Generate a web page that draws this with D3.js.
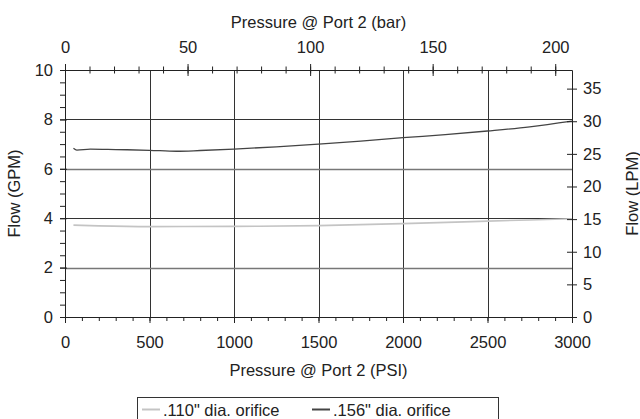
<!DOCTYPE html>
<html>
<head>
<meta charset="utf-8">
<script src="https://cdn.jsdelivr.net/npm/d3@7"></script>
<style>
  body { margin: 0; background: #fff; }
  text { font-family: "Liberation Sans", Arial, sans-serif; fill: #222; }
</style>
</head>
<body>
<svg id="chart" width="640" height="419"></svg>
<script>
// series (x in PSI, y in GPM)
const psiSmall = [50, 200, 500, 1000, 1500, 2000, 2500, 3000];
const gpmSmall = [3.72, 3.69, 3.66, 3.67, 3.70, 3.78, 3.88, 3.98];

const psiLarge = [50, 70, 150, 300, 500, 660, 800, 1000, 1250, 1500, 1750, 2000, 2250, 2500, 2750, 3000];
const gpmLarge = [6.83, 6.76, 6.80, 6.78, 6.75, 6.71, 6.74, 6.80, 6.89, 7.00, 7.12, 7.26, 7.38, 7.53, 7.70, 7.93];

const seriesNames = ['.110" dia. orifice', '.156" dia. orifice'];

const psiTicks = [0, 500, 1000, 1500, 2000, 2500, 3000];
const barTicks = [0, 50, 100, 150, 200];
const gpmTicks = [0, 2, 4, 6, 8, 10];
const lpmTicks = [0, 5, 10, 15, 20, 25, 30, 35];

const PSI_PER_BAR = 14.5038;
const LPM_PER_GPM = 3.78541;
const FS = 16.5;

const svg = d3.select("#chart");
const mLeft = 65, mRight = 572, mTop = 70, mBottom = 317;

const x = d3.scaleLinear().domain([0, 3000]).range([mLeft, mRight]);
const y = d3.scaleLinear().domain([0, 10]).range([mBottom, mTop]);
const xBar = d3.scaleLinear().domain([0, 3000 / PSI_PER_BAR]).range([mLeft, mRight]);
const yLpm = d3.scaleLinear().domain([0, 10 * LPM_PER_GPM]).range([mBottom, mTop]);

// grid
const grid = svg.append("g").attr("stroke", "#333").attr("stroke-width", 1);
grid.selectAll("line.v")
  .data(psiTicks.slice(1, -1))
  .enter().append("line")
    .attr("x1", d => Math.round(x(d)) + 0.5).attr("x2", d => Math.round(x(d)) + 0.5)
    .attr("y1", mTop).attr("y2", mBottom);
grid.selectAll("line.h")
  .data(gpmTicks.slice(1, -1))
  .enter().append("line")
    .attr("x1", mLeft).attr("x2", mRight)
    .attr("y1", d => Math.round(y(d)) + 0.5).attr("y2", d => Math.round(y(d)) + 0.5)
    .attr("stroke", d => d % 4 === 0 ? "#333" : "#777")
    .attr("stroke-width", d => d % 4 === 0 ? 1 : 1.5);

// curves
const line = d3.line().x(d => x(d[0])).y(d => y(d[1])).curve(d3.curveMonotoneX);
svg.append("path")
  .datum(d3.zip(psiSmall, gpmSmall))
  .attr("fill", "none").attr("stroke", "#c4c4c4").attr("stroke-width", 1.6)
  .attr("d", line);
svg.append("path")
  .datum(d3.zip(psiLarge, gpmLarge))
  .attr("fill", "none").attr("stroke", "#444").attr("stroke-width", 1.3)
  .attr("d", line);

function styleAxis(g) {
  g.select(".domain").attr("stroke", "#222");
  g.selectAll(".tick line").attr("stroke", "#222");
  g.selectAll(".tick text").attr("font-size", FS).attr("fill", "#222")
    .attr("font-family", "Liberation Sans, Arial, sans-serif");
}

// bottom axis: PSI
svg.append("g").attr("transform", `translate(0,${mBottom})`)
  .call(d3.axisBottom(x).tickValues(d3.range(0, 3001, 100)).tickSize(4).tickFormat(""))
  .call(styleAxis);
svg.append("g").attr("transform", `translate(0,${mBottom})`)
  .call(d3.axisBottom(x).tickValues(psiTicks).tickSize(6).tickPadding(13).tickFormat(d3.format("d")))
  .call(styleAxis)
  .call(g => g.select(".domain").remove());

// top axis: bar, ticks crossing the line
const topAxis = svg.append("g").attr("transform", `translate(0,${mTop})`);
topAxis.call(d3.axisTop(xBar).tickValues(d3.range(0, 207, 10)).tickSize(4).tickSizeOuter(0).tickFormat(""))
  .call(styleAxis)
  .call(g => g.selectAll(".tick line").attr("y2", -3.5).attr("y1", 3.5));
topAxis.append("g")
  .call(d3.axisTop(xBar).tickValues(barTicks).tickSize(6).tickPadding(11).tickFormat(d3.format("d")))
  .call(styleAxis)
  .call(g => g.select(".domain").remove())
  .call(g => g.selectAll(".tick line").attr("y2", -6).attr("y1", 6));

// left axis: GPM
svg.append("g").attr("transform", `translate(${mLeft},0)`)
  .call(d3.axisLeft(y).tickValues(d3.range(0, 10.01, 0.5)).tickSize(5).tickFormat(""))
  .call(styleAxis);
svg.append("g").attr("transform", `translate(${mLeft},0)`)
  .call(d3.axisLeft(y).tickValues(gpmTicks).tickSize(5).tickPadding(7).tickFormat(d3.format("d")))
  .call(styleAxis)
  .call(g => g.select(".domain").remove())
  .call(g => g.selectAll(".tick line").attr("x1", 2));

// right axis: LPM, ticks crossing
svg.append("g").attr("transform", `translate(${mRight},0)`)
  .call(d3.axisRight(yLpm).tickValues(lpmTicks).tickSize(5).tickSizeOuter(0).tickPadding(6).tickFormat(d3.format("d")))
  .call(styleAxis)
  .call(g => g.selectAll(".tick line").attr("x1", -5));

// axis titles
svg.append("text").attr("x", (mLeft + mRight) / 2).attr("y", 28)
  .attr("text-anchor", "middle").attr("font-size", FS).text("Pressure @ Port 2 (bar)");
svg.append("text").attr("x", (mLeft + mRight) / 2).attr("y", 376)
  .attr("text-anchor", "middle").attr("font-size", FS).text("Pressure @ Port 2 (PSI)");
svg.append("text").attr("transform", `translate(20,${(mTop + mBottom) / 2}) rotate(-90)`)
  .attr("text-anchor", "middle").attr("font-size", FS).text("Flow (GPM)");
svg.append("text").attr("transform", `translate(638,${(mTop + mBottom) / 2}) rotate(-90)`)
  .attr("text-anchor", "middle").attr("font-size", FS).text("Flow (LPM)");

// legend
const legend = svg.append("g");
legend.append("rect")
  .attr("x", 137.5).attr("y", 397.5).attr("width", 361).attr("height", 40)
  .attr("fill", "none").attr("stroke", "#333");
const legendColors = ["#c4c4c4", "#444"];
const legendX = [142, 312];
seriesNames.forEach((name, i) => {
  legend.append("line")
    .attr("x1", legendX[i]).attr("x2", legendX[i] + 18)
    .attr("y1", 409.5).attr("y2", 409.5)
    .attr("stroke", legendColors[i]).attr("stroke-width", 2);
  legend.append("text")
    .attr("x", legendX[i] + 21).attr("y", 415.5)
    .attr("font-size", FS).text(name);
});
</script>
</body>
</html>
